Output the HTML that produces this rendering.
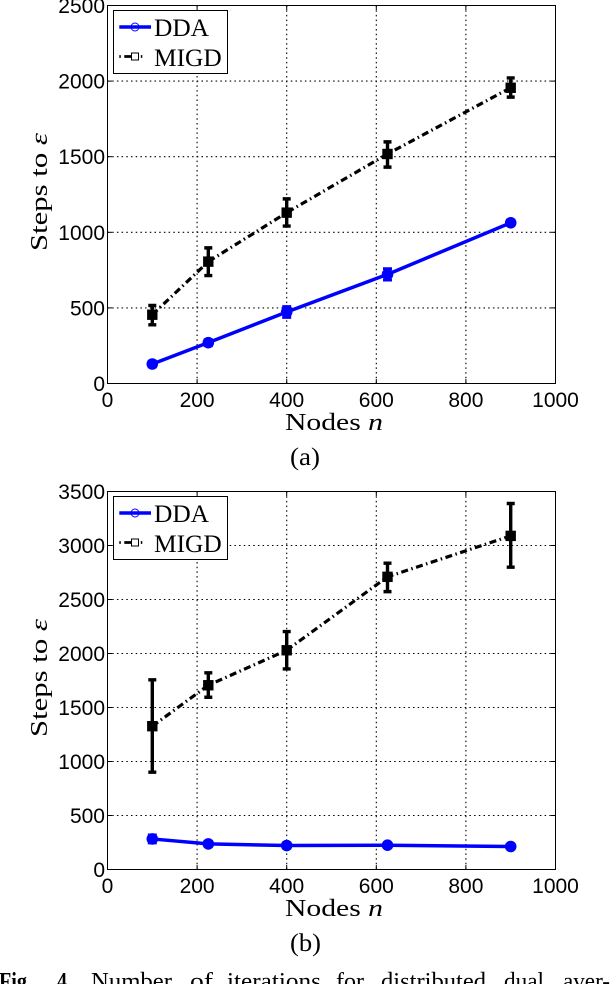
<!DOCTYPE html>
<html lang="en">
<head>
<meta charset="utf-8">
<title>Steps to epsilon vs nodes</title>
<style>
html,body{margin:0;padding:0;background:#fff;width:612px;height:984px;overflow:hidden}
svg{display:block}
text{fill:#000}
.tick{font-family:"Liberation Sans",sans-serif;font-size:21px}
.serif{font-family:"Liberation Serif",serif}
</style>
</head>
<body>
<svg id="fig" xmlns="http://www.w3.org/2000/svg" width="612" height="984" viewBox="0 0 612 984">
  <rect width="612" height="984" fill="#fff"/>
  <text class="serif" x="290" y="465" font-size="25" textLength="30" lengthAdjust="spacingAndGlyphs">(a)</text>
  <text class="serif" x="290" y="951" font-size="25" textLength="31" lengthAdjust="spacingAndGlyphs">(b)</text>
  <g class="serif" font-size="24">
    <text x="-1" y="989" font-weight="bold" textLength="33" lengthAdjust="spacingAndGlyphs">Fig.</text>
    <text x="57" y="989" font-weight="bold" textLength="15" lengthAdjust="spacingAndGlyphs">4.</text>
    <text x="91" y="989" textLength="81" lengthAdjust="spacingAndGlyphs">Number</text>
    <text x="190" y="989" textLength="23" lengthAdjust="spacingAndGlyphs">of</text>
    <text x="227" y="989" textLength="94" lengthAdjust="spacingAndGlyphs">iterations</text>
    <text x="336" y="989" textLength="28" lengthAdjust="spacingAndGlyphs">for</text>
    <text x="381" y="989" textLength="105" lengthAdjust="spacingAndGlyphs">distributed</text>
    <text x="504" y="989" textLength="40" lengthAdjust="spacingAndGlyphs">dual</text>
    <text x="563" y="989" textLength="47" lengthAdjust="spacingAndGlyphs">aver-</text>
  </g>
</svg>
<script>
var nodes = [100, 225, 400, 625, 900];
var xTicks = [0, 200, 400, 600, 800, 1000];
var yTicksA = [0, 500, 1000, 1500, 2000, 2500];
var yTicksB = [0, 500, 1000, 1500, 2000, 2500, 3000, 3500];
var ddaA = [129, 270, 473, 722, 1063];
var ddaALow = [110, 250, 437, 684, 1045];
var ddaAHigh = [148, 290, 509, 760, 1081];
var migdA = [455, 806, 1130, 1518, 1956];
var migdALow = [388, 714, 1041, 1431, 1894];
var migdAHigh = [516, 897, 1221, 1598, 2021];
var ddaB = [283, 237, 222, 225, 213];
var ddaBLow = [246, 215, 200, 205, 195];
var ddaBHigh = [320, 260, 245, 245, 232];
var migdB = [1327, 1706, 2030, 2710, 3089];
var migdBLow = [901, 1595, 1857, 2573, 2799];
var migdBHigh = [1756, 1821, 2203, 2836, 3389];

var NS = 'http://www.w3.org/2000/svg';
var fig = document.getElementById('fig');

function mk(parent, tag, attrs, txt) {
  var n = document.createElementNS(NS, tag);
  for (var k in attrs) n.setAttribute(k, attrs[k]);
  if (txt !== undefined) n.textContent = txt;
  parent.appendChild(n);
  return n;
}

function drawChart(cfg) {
  var L = 107.5, R = 555.5, T = cfg.top, B = cfg.bottom;
  var xMax = xTicks[xTicks.length - 1];
  var yMax = cfg.yTicks[cfg.yTicks.length - 1];
  function sx(v) { return L + (R - L) * v / xMax; }
  function sy(v) { return B - (B - T) * v / yMax; }

  var g = mk(fig, 'g', {});
  
  

  xTicks.forEach(function (t) {
    var px = sx(t);
    if (t > 0 && t < xMax) {
      var gl = mk(g, 'line', {x1: px, x2: px, y1: T, y2: B, stroke: '#000', 'stroke-width': 1.1, 'stroke-dasharray': '1.5 3.2'});
      
      
      var tk1 = mk(g, 'line', {x1: px, x2: px, y1: B, y2: B - 4.5, stroke: '#000', 'stroke-width': 1});
      
      
      var tk2 = mk(g, 'line', {x1: px, x2: px, y1: T, y2: T + 4.5, stroke: '#000', 'stroke-width': 1});
      
      
    }
    var lb = mk(g, 'text', {'class': 'tick', x: px, y: B + 23.5, 'text-anchor': 'middle'}, String(t));
    
    
  });

  cfg.yTicks.forEach(function (t) {
    var py = sy(t);
    if (t > 0 && t < yMax) {
      var gl = mk(g, 'line', {x1: L, x2: R, y1: py, y2: py, stroke: '#000', 'stroke-width': 1.1, 'stroke-dasharray': '1.5 3.2'});
      
      
      var tk1 = mk(g, 'line', {x1: L, x2: L + 4.5, y1: py, y2: py, stroke: '#000', 'stroke-width': 1});
      
      
      var tk2 = mk(g, 'line', {x1: R, x2: R - 4.5, y1: py, y2: py, stroke: '#000', 'stroke-width': 1});
      
      
    }
    var lb = mk(g, 'text', {'class': 'tick', x: 105, y: py + 7.5, 'text-anchor': 'end'}, String(t));
    
    
  });

  var frame = mk(g, 'rect', {x: L, y: T, width: R - L, height: B - T, fill: 'none', stroke: '#000', 'stroke-width': 1});
  
  

  function pts(vals) {
    return vals.map(function (v, i) { return sx(nodes[i]) + ',' + sy(v); }).join(' ');
  }

  function bars(low, high, color, w, sw) {
    nodes.forEach(function (n, i) {
      var px = sx(n), a = sy(low[i]), b = sy(high[i]);
      var st = mk(g, 'path', {d: 'M' + px + ' ' + a + 'V' + b + 'M' + (px - w) + ' ' + a + 'H' + (px + w) + 'M' + (px - w) + ' ' + b + 'H' + (px + w), stroke: color, 'stroke-width': sw, fill: 'none'});
      
      
    });
  }

  bars(cfg.ddaLow, cfg.ddaHigh, '#0000ff', 4.5, 2.8);
  var dl = mk(g, 'polyline', {points: pts(cfg.dda), fill: 'none', stroke: '#0000ff', 'stroke-width': 3.5});
  
  
  cfg.dda.forEach(function (v, i) {
    var c = mk(g, 'circle', {cx: sx(nodes[i]), cy: sy(v), r: 5.8, fill: '#0000ff'});
    
    
  });

  bars(cfg.migdLow, cfg.migdHigh, '#000', 4, 3.4);
  var ml = mk(g, 'polyline', {points: pts(cfg.migd), fill: 'none', stroke: '#000', 'stroke-width': 3.2, 'stroke-dasharray': '7 3.5 1.5 3.5'});
  
  
  cfg.migd.forEach(function (v, i) {
    var s = mk(g, 'rect', {x: sx(nodes[i]) - 5.2, y: sy(v) - 5.2, width: 10.4, height: 10.4, fill: '#000'});
    
    
  });

  var xl = mk(g, 'text', {'class': 'serif', x: 285, y: B + 46.5, 'font-size': 24, textLength: 98, lengthAdjust: 'spacingAndGlyphs'}, '');
  
  
  mk(xl, 'tspan', {}, 'Nodes ');
  mk(xl, 'tspan', {'font-style': 'italic'}, 'n');

  var yl = mk(g, 'text', {'class': 'serif', 'font-size': 24, 'text-anchor': 'middle', textLength: 118, lengthAdjust: 'spacingAndGlyphs', transform: 'translate(47,' + cfg.yLabelY + ') rotate(-90)'}, '');
  
  
  mk(yl, 'tspan', {}, 'Steps to ');
  mk(yl, 'tspan', {'font-style': 'italic'}, 'ε');

  var ly = T + 5;
  var lg = mk(g, 'g', {});
  
  
  var box = mk(lg, 'rect', {x: 113.5, y: ly, width: 114, height: 63, fill: '#fff', stroke: '#000', 'stroke-width': 1});
  
  

  var l1 = mk(lg, 'line', {x1: 119.3, x2: 151, y1: ly + 16.5, y2: ly + 16.5, stroke: '#0000ff', 'stroke-width': 3.4});
  
  
  var m1 = mk(lg, 'circle', {cx: 135, cy: ly + 16.5, r: 4, fill: '#fff', 'fill-opacity': 0, stroke: '#0000ff', 'stroke-width': 1});
  
  
  var t1 = mk(lg, 'text', {'class': 'serif', x: 154, y: ly + 25.5, 'font-size': 25.4}, 'DDA');
  
  

  var l2 = mk(lg, 'line', {x1: 119.3, x2: 151, y1: ly + 46, y2: ly + 46, stroke: '#000', 'stroke-width': 2.8, 'stroke-dasharray': '1.5 3.5 13 3.5 1.5 9'});
  
  
  var m2 = mk(lg, 'rect', {x: 131.5, y: ly + 42.5, width: 7, height: 7, fill: '#fff', stroke: '#000', 'stroke-width': 1});
  
  
  var t2 = mk(lg, 'text', {'class': 'serif', x: 154, y: ly + 55.5, 'font-size': 25.4}, 'MIGD');
  
  
}

drawChart({name: 'chart-a', top: 5.5, bottom: 383.5, yTicks: yTicksA, yLabelY: 192,
  dda: ddaA, ddaLow: ddaALow, ddaHigh: ddaAHigh, migd: migdA, migdLow: migdALow, migdHigh: migdAHigh});
drawChart({name: 'chart-b', top: 491.5, bottom: 869.5, yTicks: yTicksB, yLabelY: 678,
  dda: ddaB, ddaLow: ddaBLow, ddaHigh: ddaBHigh, migd: migdB, migdLow: migdBLow, migdHigh: migdBHigh});
</script>
</body>
</html>
